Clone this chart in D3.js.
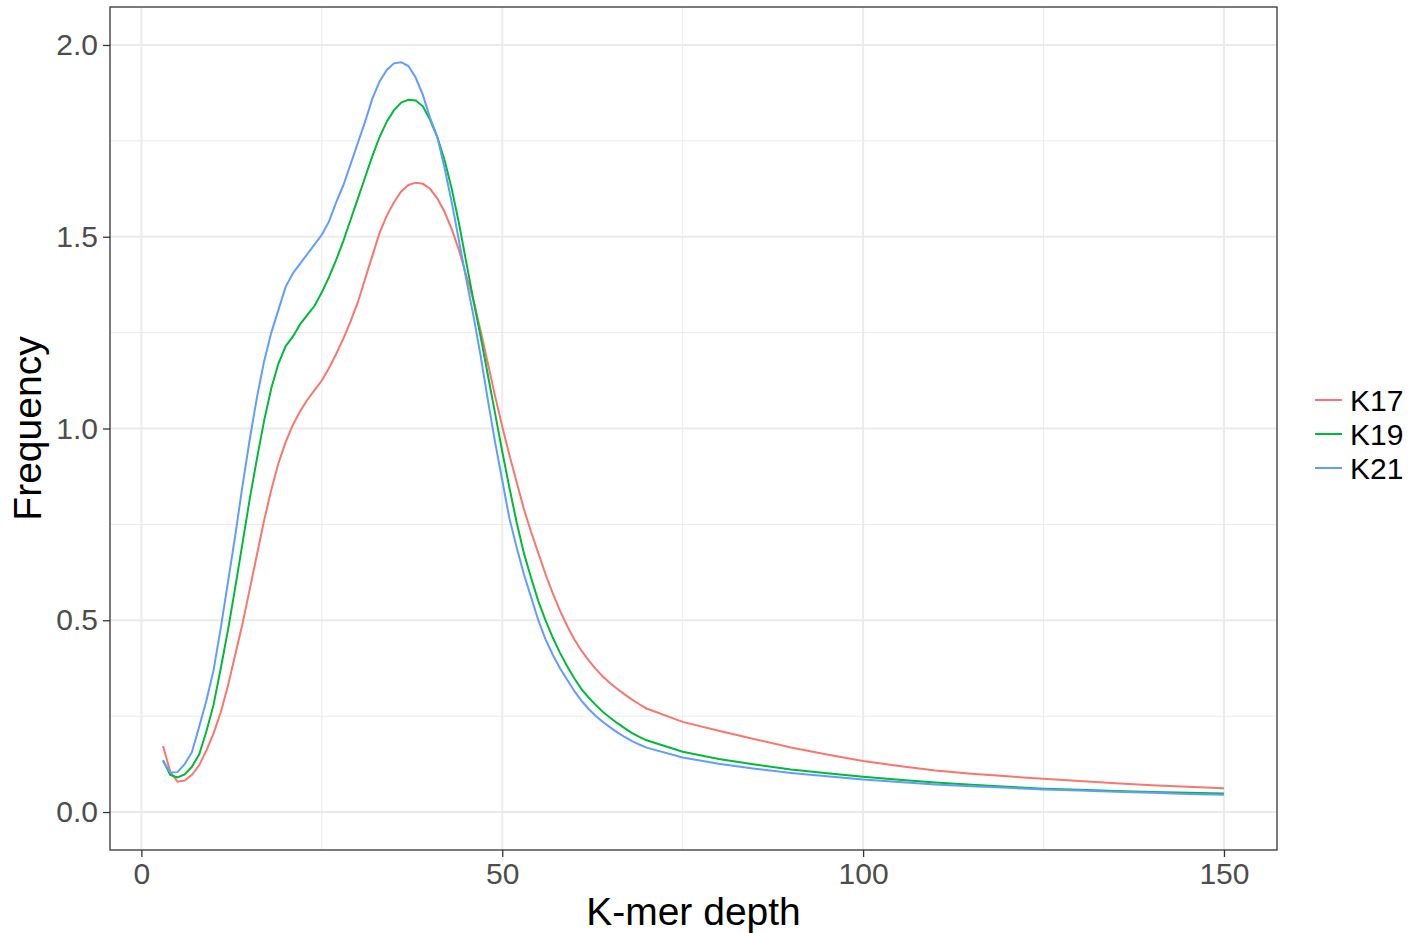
<!DOCTYPE html>
<html>
<head>
<meta charset="utf-8">
<script src="https://cdn.jsdelivr.net/npm/d3@7"></script>
<style>
  body { margin: 0; background: #fff; }
  text { font-family: "Liberation Sans", Arial, sans-serif; }
</style>
</head>
<body>
<div id="chart"></div>
<script>
// K-mer depth values (x)
const depth = [3, 4, 5, 6, 7, 8, 9, 10, 11, 12, 13, 14, 15, 16, 17, 18, 19, 20,
  21, 22, 23, 24, 25, 26, 27, 28, 29, 30, 31, 32, 33, 34, 35, 36, 37, 38, 39, 40,
  41, 42, 43, 44, 45, 46, 47, 48, 49, 50, 51, 52, 53, 54, 55, 56, 57, 58, 59, 60,
  61, 62, 63, 64, 65, 66, 67, 68, 69, 70, 75, 80, 85, 90, 95, 100, 105, 110, 115,
  120, 125, 130, 135, 140, 145, 150];

// Frequency per series
const k17 = [0.172, 0.105, 0.079, 0.082, 0.097, 0.122, 0.16, 0.205, 0.26, 0.33, 0.41, 0.49, 0.58, 0.67, 0.76, 0.84, 0.91, 0.965,
  1.01, 1.045, 1.075, 1.10, 1.125, 1.158, 1.195, 1.235, 1.28, 1.33, 1.39, 1.45, 1.51, 1.555, 1.59, 1.618, 1.635, 1.641, 1.638, 1.625,
  1.60, 1.565, 1.52, 1.465, 1.40, 1.335, 1.255, 1.17, 1.085, 1.005, 0.93, 0.86, 0.79, 0.73, 0.675, 0.62, 0.57, 0.525, 0.485, 0.45,
  0.42, 0.395, 0.372, 0.352, 0.335, 0.32, 0.306, 0.293, 0.281, 0.27, 0.235, 0.212, 0.19, 0.168, 0.15, 0.133, 0.12, 0.108, 0.10,
  0.093, 0.087, 0.081, 0.075, 0.07, 0.066, 0.062];

const k19 = [0.135, 0.097, 0.09, 0.098, 0.118, 0.15, 0.21, 0.28, 0.375, 0.475, 0.585, 0.70, 0.815, 0.92, 1.02, 1.105, 1.17, 1.215,
  1.24, 1.272, 1.296, 1.32, 1.355, 1.395, 1.44, 1.49, 1.545, 1.60, 1.655, 1.71, 1.76, 1.80, 1.83, 1.85, 1.857, 1.855, 1.84, 1.805,
  1.76, 1.70, 1.625, 1.535, 1.435, 1.335, 1.24, 1.14, 1.04, 0.94, 0.845, 0.755, 0.675, 0.61, 0.55, 0.50, 0.455, 0.415, 0.38, 0.348,
  0.32, 0.298, 0.278, 0.26, 0.245, 0.231, 0.218, 0.206, 0.196, 0.187, 0.157, 0.138, 0.124, 0.111, 0.101, 0.092, 0.084, 0.077, 0.071,
  0.066, 0.061, 0.058, 0.055, 0.052, 0.05, 0.048];

const k21 = [0.133, 0.103, 0.104, 0.125, 0.156, 0.222, 0.29, 0.37, 0.48, 0.60, 0.72, 0.85, 0.97, 1.08, 1.175, 1.25, 1.31, 1.37,
  1.405, 1.43, 1.455, 1.48, 1.505, 1.54, 1.59, 1.635, 1.69, 1.745, 1.80, 1.86, 1.905, 1.935, 1.952, 1.955, 1.945, 1.915, 1.87, 1.81,
  1.76, 1.68, 1.59, 1.49, 1.39, 1.295, 1.19, 1.075, 0.965, 0.865, 0.765, 0.69, 0.62, 0.56, 0.50, 0.45, 0.41, 0.375, 0.345, 0.315,
  0.29, 0.268, 0.25, 0.234, 0.22, 0.207, 0.195, 0.185, 0.176, 0.168, 0.142, 0.126, 0.113, 0.102, 0.093, 0.085, 0.078, 0.072, 0.067,
  0.063, 0.059, 0.056, 0.053, 0.05, 0.047, 0.045];

const seriesNames = ['K17', 'K19', 'K21'];
const seriesColors = ['#F8766D', '#00BA38', '#619CFF'];
const xTicks = [0, 50, 100, 150];
const yTicks = [0, 0.5, 1.0, 1.5, 2.0];

const series = [k17, k19, k21].map(function (vals, i) {
  return { name: seriesNames[i], color: seriesColors[i], values: vals.map((v, j) => ({ x: depth[j], y: v })) };
});

// Chart dimensions
const W = 1424, H = 933;
const panel = { left: 110, top: 7, right: 1277, bottom: 850 };

const svg = d3.select('#chart')
  .append('svg')
  .attr('width', W)
  .attr('height', H);

// Scales (ggplot style 5% expansion)
const xr = d3.extent(depth);
const xPad = (xr[1] - xr[0]) * 0.05;
const xScale = d3.scaleLinear()
  .domain([xr[0] - xPad, xr[1] + xPad])
  .range([panel.left, panel.right]);

const yScale = d3.scaleLinear()
  .domain([-0.099, 2.099])
  .range([panel.bottom, panel.top]);

// Grid lines
const grid = svg.append('g');
const xMinor = [25, 75, 125];
const yMinor = [0.25, 0.75, 1.25, 1.75];

grid.selectAll('.xminor').data(xMinor).enter().append('line')
  .attr('x1', d => xScale(d)).attr('x2', d => xScale(d))
  .attr('y1', panel.top).attr('y2', panel.bottom)
  .attr('stroke', '#EBEBEB').attr('stroke-width', 1);
grid.selectAll('.yminor').data(yMinor).enter().append('line')
  .attr('x1', panel.left).attr('x2', panel.right)
  .attr('y1', d => yScale(d)).attr('y2', d => yScale(d))
  .attr('stroke', '#EBEBEB').attr('stroke-width', 1);
grid.selectAll('.xmajor').data(xTicks).enter().append('line')
  .attr('x1', d => xScale(d)).attr('x2', d => xScale(d))
  .attr('y1', panel.top).attr('y2', panel.bottom)
  .attr('stroke', '#EBEBEB').attr('stroke-width', 2);
grid.selectAll('.ymajor').data(yTicks).enter().append('line')
  .attr('x1', panel.left).attr('x2', panel.right)
  .attr('y1', d => yScale(d)).attr('y2', d => yScale(d))
  .attr('stroke', '#EBEBEB').attr('stroke-width', 2);

// Lines
const line = d3.line()
  .x(d => xScale(d.x))
  .y(d => yScale(d.y));

svg.selectAll('.series')
  .data(series)
  .enter()
  .append('path')
  .attr('d', d => line(d.values))
  .attr('fill', 'none')
  .attr('stroke', d => d.color)
  .attr('stroke-width', 2);

// Panel border
svg.append('rect')
  .attr('x', panel.left).attr('y', panel.top)
  .attr('width', panel.right - panel.left)
  .attr('height', panel.bottom - panel.top)
  .attr('fill', 'none')
  .attr('stroke', '#333333')
  .attr('stroke-width', 1.3);

// Axes
const xAxis = d3.axisBottom(xScale).tickValues(xTicks).tickFormat(d3.format('d')).tickSize(7).tickPadding(6);
const yAxis = d3.axisLeft(yScale).tickValues(yTicks).tickFormat(d3.format('.1f')).tickSize(7).tickPadding(5);

const gx = svg.append('g')
  .attr('transform', 'translate(0,' + panel.bottom + ')')
  .call(xAxis);
const gy = svg.append('g')
  .attr('transform', 'translate(' + panel.left + ',0)')
  .call(yAxis);

[gx, gy].forEach(function (g) {
  g.select('.domain').remove();
  g.selectAll('.tick line').attr('stroke', '#333333').attr('stroke-width', 1.3);
  g.selectAll('.tick text')
    .attr('fill', '#4D4D4D')
    .style('font-size', '30px')
    .style('font-family', '"Liberation Sans", Arial, sans-serif');
});

// Axis titles
svg.append('text')
  .attr('x', (panel.left + panel.right) / 2)
  .attr('y', 925)
  .attr('text-anchor', 'middle')
  .style('font-size', '39px')
  .text('K-mer depth');

svg.append('text')
  .attr('transform', 'translate(41,' + (panel.top + panel.bottom) / 2 + ') rotate(-90)')
  .attr('text-anchor', 'middle')
  .style('font-size', '39px')
  .text('Frequency');

// Legend
const legend = svg.append('g')
  .attr('transform', 'translate(1315,400)');

const item = legend.selectAll('.item')
  .data(series)
  .enter()
  .append('g')
  .attr('transform', (d, i) => 'translate(0,' + i * 34 + ')');

item.append('line')
  .attr('x1', 0).attr('x2', 27)
  .attr('stroke', d => d.color)
  .attr('stroke-width', 2);

item.append('text')
  .attr('x', 35)
  .attr('dy', '0.35em')
  .style('font-size', '30px')
  .text(d => d.name);
</script>
</body>
</html>
